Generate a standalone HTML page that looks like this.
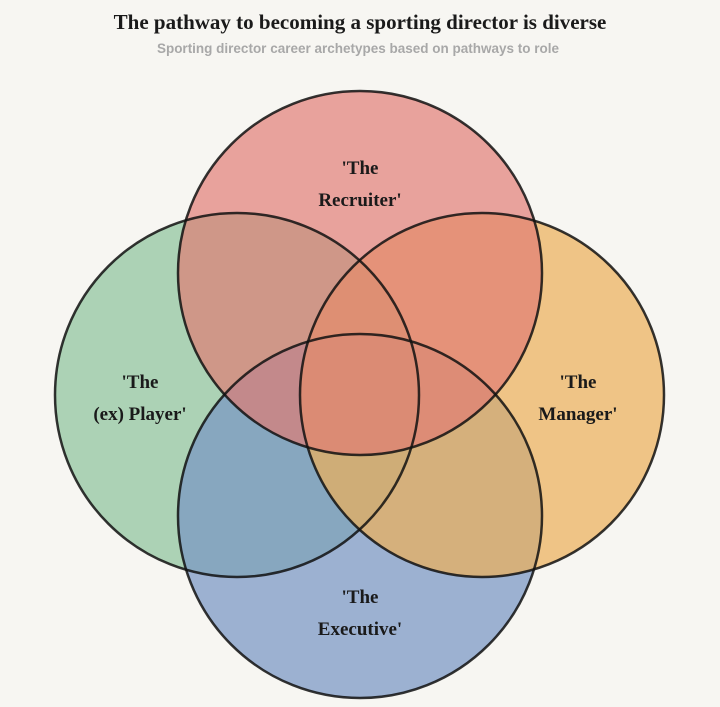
<!DOCTYPE html>
<html><head><meta charset="utf-8"><style>
body{margin:0;background:#f7f6f2;width:720px;height:702px;overflow:hidden}
</style></head><body>
<svg width="720" height="702" xmlns="http://www.w3.org/2000/svg">
<rect width="720" height="702" fill="#f7f6f2"/>
<text x="360" y="29" text-anchor="middle" font-family="Liberation Serif, serif" font-weight="bold" font-size="21" fill="#1a1a1a">The pathway to becoming a sporting director is diverse</text>
<text x="358" y="53" text-anchor="middle" font-family="Liberation Sans, sans-serif" font-weight="bold" font-size="13.5" fill="#a8a8a8">Sporting director career archetypes based on pathways to role</text>
<g>
<circle cx="237" cy="395" r="182" fill="#8fc49c" fill-opacity="0.72"/>
<circle cx="360" cy="516" r="182" fill="#7896c4" fill-opacity="0.72"/>
<circle cx="482" cy="395" r="182" fill="#ecb05c" fill-opacity="0.72"/>
<circle cx="360" cy="273" r="182" fill="#e07a73" fill-opacity="0.68"/>
</g>
<g fill="none" stroke="#111" stroke-width="2.5" stroke-opacity="0.85">
<circle cx="237" cy="395" r="182"/>
<circle cx="360" cy="516" r="182"/>
<circle cx="482" cy="395" r="182"/>
<circle cx="360" cy="273" r="182"/>
</g>
<g font-family="Liberation Serif, serif" font-weight="bold" font-size="19" fill="#1a1a1a" text-anchor="middle">
<text x="360" y="174">'The</text><text x="360" y="206">Recruiter'</text>
<text x="140" y="388">'The</text><text x="140" y="420">(ex) Player'</text>
<text x="578" y="388">'The</text><text x="578" y="420">Manager'</text>
<text x="360" y="603">'The</text><text x="360" y="635">Executive'</text>
</g>
</svg>
</body></html>
